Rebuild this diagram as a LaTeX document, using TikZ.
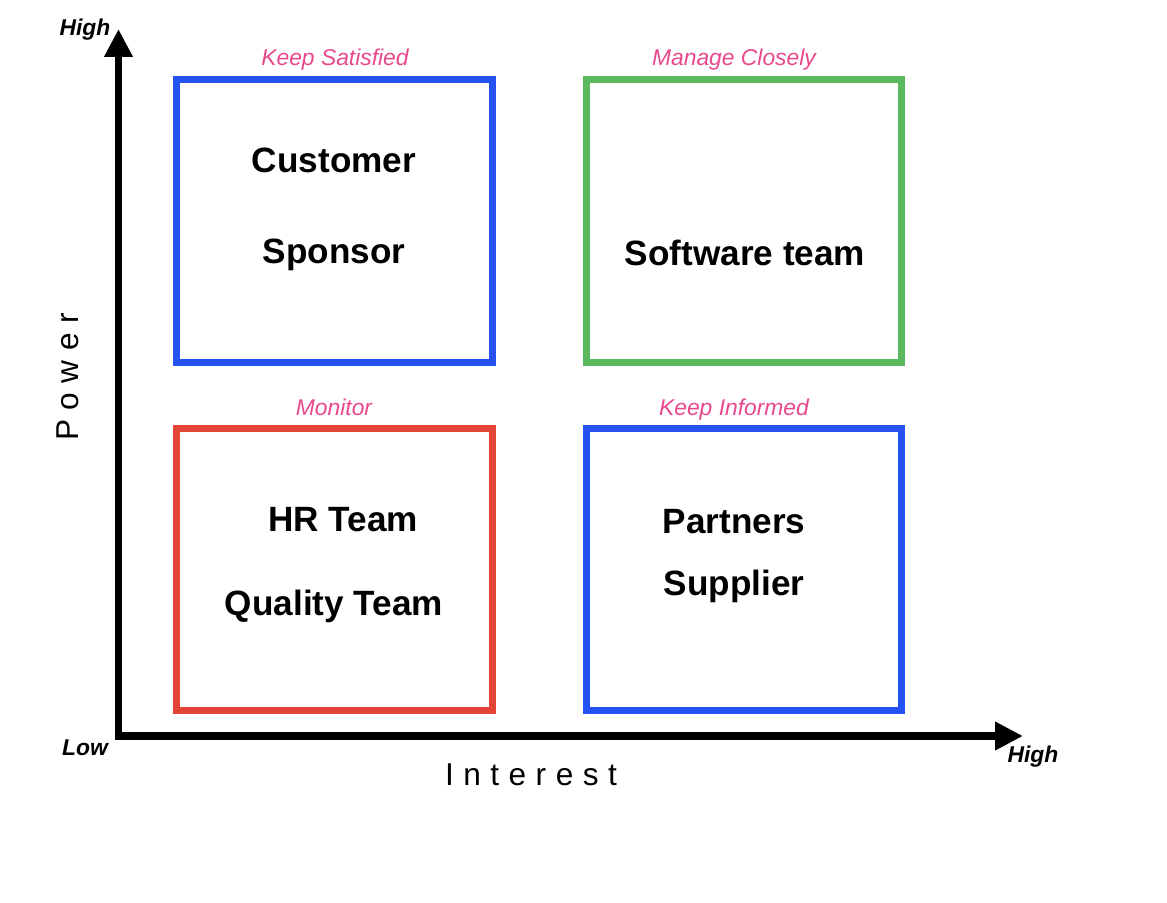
\documentclass[tikz,border=0pt]{standalone}
\usepackage{fontspec}
\setmainfont{Liberation Sans}
\usepackage{xcolor}
\usepackage{tikz}
\definecolor{quadblue}{RGB}{37,82,240}
\definecolor{quadgreen}{RGB}{92,184,92}
\definecolor{quadred}{RGB}{226,69,56}
\definecolor{tagpink}{RGB}{232,72,140}
\usetikzlibrary{arrows.meta}
\tikzset{
    quad/.style={rectangle, draw=#1, line width=0.14cm, minimum width=6.31cm, minimum height=5.66cm},
    member/.style={font=\bfseries\fontsize{20}{24}\selectfont},
    tag/.style={font=\itshape\fontsize{13}{16}\selectfont, text=tagpink},
    level/.style={font=\bfseries\itshape\fontsize{13}{16}\selectfont},
    axisname/.style={font=\fontsize{18}{22}\selectfont\addfontfeature{LetterSpace=30}},
    axes/.style={line width=0.15cm, miter limit=10, {Triangle[length=0.56cm, width=0.54cm]}-{Triangle[length=0.56cm, width=0.54cm]}},
}

\begin{document}
\begin{tikzpicture}[x=0.02cm, y=-0.02cm]
    \useasboundingbox (0,0) rectangle (1167,903);

    % Axes
    \coordinate (origin) at (118.5,736);
    \coordinate (ytip) at (118.5,29);
    \coordinate (xtip) at (1023,736);
    \draw[axes] (ytip) -- (origin) -- (xtip);
    \node[level] (yhigh) at (85,30) {High};
    \node[level] (low) at (85,748) {Low};
    \node[level] (xhigh) at (1033,757) {High};
    \node[axisname] (interest) at (531,775) {Interest};
    \node[axisname, rotate=90] (power) at (68,377) {Power};

    % Quadrants
    \node[quad=quadblue] (satisfied) at (334.5,221) {};
    \node[quad=quadgreen] (closely) at (744,221) {};
    \node[quad=quadred] (monitor) at (334.5,569.5) {};
    \node[quad=quadblue] (informed) at (744,569.5) {};

    % Strategy labels
    \node[tag] (satisfiedtag) at (335,60) {Keep Satisfied};
    \node[tag] (closelytag) at (734,60) {Manage Closely};
    \node[tag] (monitortag) at (334,407) {Monitor};
    \node[tag] (informedtag) at (734,410) {Keep Informed};

    % Stakeholders
    \node[member] (customer) at (334,160) {Customer};
    \node[member] (sponsor) at (334,255) {Sponsor};
    \node[member] (software) at (745,253) {Software team};
    \node[member] (hr) at (343,520) {HR Team};
    \node[member] (quality) at (334,606) {Quality Team};
    \node[member] (partners) at (734,522) {Partners};
    \node[member] (supplier) at (734,586) {Supplier};
\end{tikzpicture}
\end{document}
